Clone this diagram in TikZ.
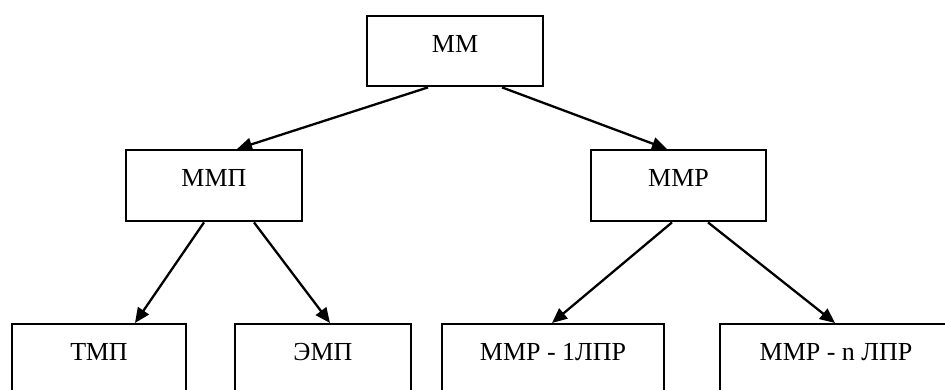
\documentclass[tikz,border=0pt]{standalone}
\usepackage{fontspec}
\setmainfont{Liberation Serif}
\usetikzlibrary{arrows.meta}
\begin{document}
\begin{tikzpicture}[x=1pt,y=-1pt,
  boxnode/.style={draw,line width=2.4pt,rectangle,anchor=north,inner sep=0pt,
    minimum height=71pt,text height=36.5pt,text depth=34.5pt,
    font=\fontsize{26}{30}\selectfont},
  arr/.style={line width=2.3pt,-{Triangle[length=15pt,width=13pt]}}]
\clip (0,0) rectangle (945,390);
\fill[white] (0,0) rectangle (945,390);
\node[boxnode,minimum width=176pt,minimum height=70pt,text depth=33.5pt] (mm) at (455,15) {ММ};
\node[boxnode,minimum width=176pt] (mmp) at (214,149) {ММП};
\node[boxnode,minimum width=175pt] (mmr) at (678.5,149) {ММР};
\node[boxnode,minimum width=174pt] (tmp) at (99,323) {ТМП};
\node[boxnode,minimum width=176pt] (emp) at (323,323) {ЭМП};
\node[boxnode,minimum width=222pt] (r1) at (553,323) {ММР - 1ЛПР};
\node[boxnode,minimum width=232pt] (rn) at (836,323) {ММР - n ЛПР};
\draw[arr] ([xshift=-27pt]mm.south) -- ([xshift=23pt]mmp.north);
\draw[arr] ([xshift=47pt]mm.south) -- ([xshift=-11.5pt]mmr.north);
\draw[arr] ([xshift=-10pt]mmp.south) -- ([xshift=36pt]tmp.north);
\draw[arr] ([xshift=40pt]mmp.south) -- ([xshift=7pt]emp.north);
\draw[arr] ([xshift=-6.5pt]mmr.south) -- ([xshift=-1pt]r1.north);
\draw[arr] ([xshift=29.5pt]mmr.south) -- ([xshift=-1pt]rn.north);
\end{tikzpicture}
\end{document}
